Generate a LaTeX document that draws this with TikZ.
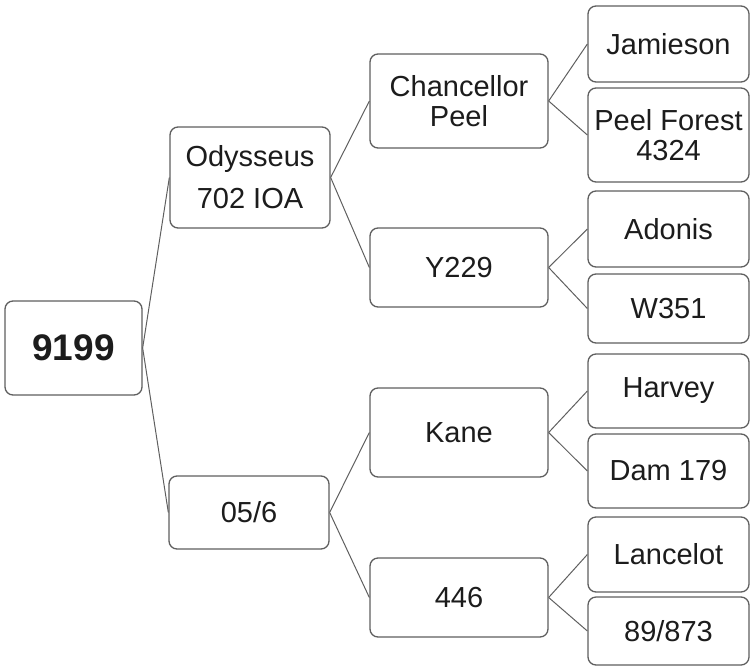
\documentclass[tikz,border=0pt]{standalone}
\usepackage{fontspec}
\setmainfont{Liberation Sans}
\usetikzlibrary{positioning}
\definecolor{edge}{RGB}{95,95,95}
\definecolor{ink}{RGB}{28,28,28}

\begin{document}
\begin{tikzpicture}[x=1pt,y=-1pt,
    box/.style={draw=edge,line width=1.3pt,rounded corners=8pt,fill=white,text=ink,
      align=center,inner sep=0pt,font=\fontsize{29}{30}\selectfont},
    link/.style={edge,line width=1pt}]
  \useasboundingbox (0,0) rectangle (751,669);
  % root and first level
  \node[box,minimum width=137pt,minimum height=94pt,font=\fontsize{37}{40}\selectfont\bfseries] (root) at (73.5,348) {9199};
  \node[box,minimum width=160pt,minimum height=101pt] (ody) at (250,177.5) {Odysseus\\[12pt]702 IOA};
  \node[box,minimum width=160pt,minimum height=73pt] (zf) at (249,512.5) {05/6};
  % second level
  \foreach \n/\y/\h/\t in {cp/101/94/{Chancellor\\Peel},y2/267.5/79/Y229,ka/432.5/89/Kane,fs/597.5/79/446}
    \node[box,minimum width=178pt,minimum height=\h pt] (\n) at (459,\y) {\t};
  % leaves
  \foreach \n/\y/\h/\t in {ja/44/76/Jamieson,pf/135/94/{Peel Forest\\4324},ad/229/76/Adonis,
      ws/308.5/69/W351,ha/391/74/Harvey,da/471/74/Dam 179,la/554.5/75/Lancelot,ns/631/68/{89/873}}
    \node[box,minimum width=161pt,minimum height=\h pt] (\n) at (668.5,\y) {\t};
  % connectors
  \foreach \s/\t in {root/ody,root/zf,ody/cp,ody/y2,zf/ka,zf/fs,cp/ja,cp/pf,y2/ad,y2/ws,ka/ha,ka/da,fs/la,fs/ns}
    \draw[link] (\s.east) -- (\t.west);
\end{tikzpicture}
\end{document}
